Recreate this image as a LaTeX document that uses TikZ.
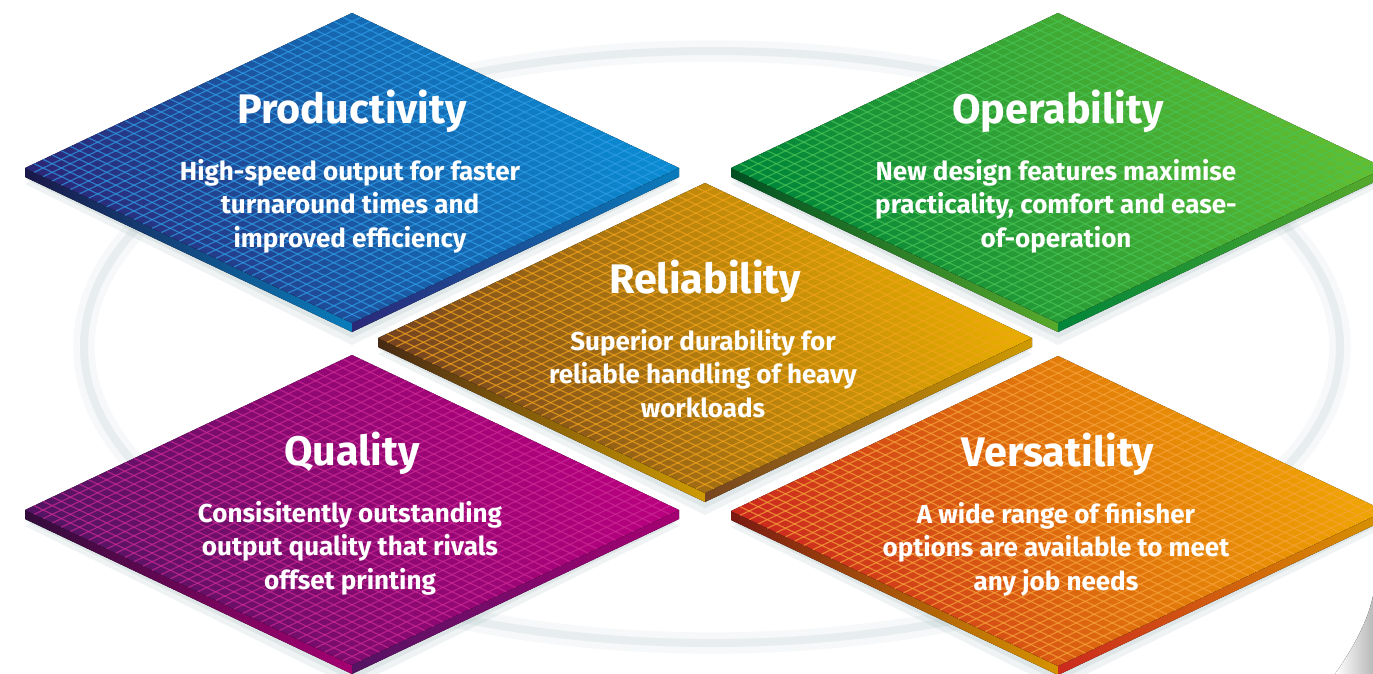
\documentclass[tikz,border=0pt]{standalone}
\usepackage{fontspec}
\setmainfont{Fira Sans}
\usepackage{tikz}
\usetikzlibrary{calc}
\definecolor{prodDark}{HTML}{2B2878}
\definecolor{prodLight}{HTML}{0A8AD0}
\definecolor{prodGrid}{HTML}{2E9CE6}
\definecolor{operDark}{HTML}{00853A}
\definecolor{operLight}{HTML}{62BD30}
\definecolor{operGrid}{HTML}{48C455}
\definecolor{relDark}{HTML}{764520}
\definecolor{relLight}{HTML}{E6AC00}
\definecolor{relGrid}{HTML}{F2A31B}
\definecolor{qualDark}{HTML}{541463}
\definecolor{qualLight}{HTML}{B8007E}
\definecolor{qualGrid}{HTML}{CC2A95}
\definecolor{versDark}{HTML}{CC2A1E}
\definecolor{versLight}{HTML}{EEA400}
\definecolor{versGrid}{HTML}{F6A33A}
\definecolor{ringc}{HTML}{E8EEEF}
\definecolor{shadowc}{HTML}{7F9EA3}
\tikzset{
  tiletitle/.style={ text=white, font=\bfseries\fontsize{31}{36}\selectfont, anchor=base, inner sep=0pt }
}
\tikzset{
  tiletext/.style={ text=white, font=\bfseries\fontsize{19.5}{25}\selectfont, align=center, anchor=base, inner sep=0pt }
}
% name, cx, cy, dark, light, grid, title, text
\newcommand{\drawtile}[8]{%
  \coordinate (#1-w) at ({#2-327}, #3);
  \coordinate (#1-n) at (#2, {#3-155});
  \coordinate (#1-e) at ({#2+327}, #3);
  \coordinate (#1-s) at (#2, {#3+155});
  \fill[shadowc, opacity=0.12] ($(#1-w)+(0,16)$) -- ($(#1-s)+(0,22)$) -- ($(#1-e)+(0,16)$) -- (#1-n) -- cycle;
  \fill[shadowc, opacity=0.15] ($(#1-w)+(0,11)$) -- ($(#1-s)+(0,15)$) -- ($(#1-e)+(0,11)$) -- (#1-n) -- cycle;
  \fill[left color=#4!60!black, right color=#5!90!black] (#1-w) -- (#1-s) -- ($(#1-s)+(0,9)$) -- ($(#1-w)+(0,9)$) -- cycle;
  \fill[left color=#4, right color=#5!90!black] (#1-s) -- (#1-e) -- ($(#1-e)+(0,9)$) -- ($(#1-s)+(0,9)$) -- cycle;
  \fill[top color=#5, bottom color=#4, middle color=#4!45!#5, shading angle=-60] (#1-w) -- (#1-n) -- (#1-e) -- (#1-s) -- cycle;
  \foreach \i in {1,...,35} {
    \draw[#6, line width=0.9pt, opacity=0.7] ($(#1-w)!\i/36!(#1-s)$) -- ($(#1-n)!\i/36!(#1-e)$);
    \draw[#6, line width=0.9pt, opacity=0.7] ($(#1-w)!\i/36!(#1-n)$) -- ($(#1-s)!\i/36!(#1-e)$);
  }
  \node[tiletitle] (#1-title) at (#2, {#3-45}) {#7};
  \node[tiletext] (#1-text) at ({#2-2}, {#3+79}) {#8};
}

\begin{document}
\begin{tikzpicture}[x=0.75pt, y=-0.75pt]
  \useasboundingbox (0,0) rectangle (1373,674);
  \clip (0,0) rectangle (1373,674);
  \fill[white] (0,0) rectangle (1373,674);
  % ring behind the tiles
  \draw[line width=16pt, color=ringc!40] (712,347) ellipse [x radius=628, y radius=296];
  \draw[line width=6pt, color=ringc] (712,347) ellipse [x radius=628, y radius=296];
  \fill[left color=white, right color=gray!55] (1335,674) .. controls (1355,645) and (1368,620) .. (1373,596) -- (1373,674) -- cycle;
  \drawtile{prod}{352}{168}{prodDark}{prodLight}{prodGrid}{Productivity}{High-speed output for faster\\turnaround times and\\improved efficiency}
  \drawtile{oper}{1058}{168}{operDark}{operLight}{operGrid}{Operability}{New design features maximise\\practicality, comfort and ease-\\of-operation}
  \drawtile{rel}{705}{338}{relDark}{relLight}{relGrid}{Reliability}{Superior durability for\\reliable handling of heavy\\workloads}
  \drawtile{qual}{352}{510}{qualDark}{qualLight}{qualGrid}{Quality}{Consisitently outstanding\\output quality that rivals\\offset printing}
  \drawtile{vers}{1058}{511}{versDark}{versLight}{versGrid}{Versatility}{A wide range of finisher\\options are available to meet\\any job needs}
\end{tikzpicture}
\end{document}
